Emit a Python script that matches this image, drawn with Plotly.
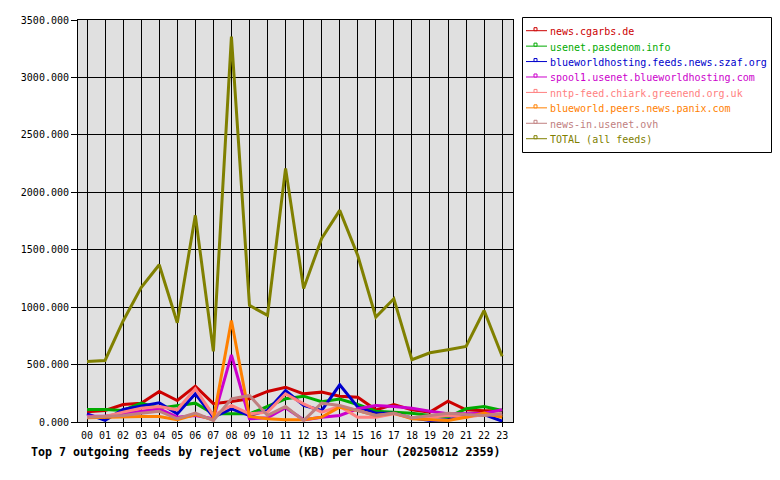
import plotly.graph_objects as go

hours = ["00", "01", "02", "03", "04", "05", "06", "07", "08", "09", "10", "11",
         "12", "13", "14", "15", "16", "17", "18", "19", "20", "21", "22", "23"]

feed_names = [
    "news.cgarbs.de",
    "usenet.pasdenom.info",
    "blueworldhosting.feeds.news.szaf.org",
    "spool1.usenet.blueworldhosting.com",
    "nntp-feed.chiark.greenend.org.uk",
    "blueworld.peers.news.panix.com",
    "news-in.usenet.ovh",
    "TOTAL (all feeds)",
]

cgarbs = [90, 100, 152, 164, 266, 187, 312, 160, 178, 202, 266, 303,
          245, 260, 225, 216, 106, 152, 106, 86, 181, 106, 98, 98]
pasdenom = [109, 109, 100, 165, 120, 145, 164, 72, 74, 71, 135, 202,
            225, 176, 199, 152, 94, 86, 77, 57, 42, 115, 135, 100]
szaf = [71, 15, 110, 140, 167, 71, 245, 42, 115, 57, 100, 274,
        144, 100, 324, 130, 77, 77, 36, 13, 19, 57, 65, 7]
spool1 = [51, 51, 71, 94, 115, 42, 57, 28, 585, 28, 37, 124,
          19, 42, 57, 115, 144, 135, 120, 94, 71, 71, 77, 106]
chiark = [42, 48, 86, 120, 135, 106, 289, 57, 144, 71, 86, 245,
          158, 86, 135, 42, 42, 71, 36, 42, 57, 42, 65, 57]
panix = [36, 42, 42, 48, 48, 19, 65, 19, 884, 48, 28, 19,
         19, 42, 129, 100, 57, 77, 28, 19, 13, 42, 77, 42]
ovh = [42, 48, 57, 77, 94, 28, 77, 13, 202, 231, 57, 135,
       13, 164, 144, 100, 57, 77, 36, 57, 77, 65, 57, 71]
total = [527, 536, 880, 1170, 1369, 864, 1799, 615, 3355, 1015, 928, 2208,
         1163, 1598, 1842, 1450, 913, 1073, 542, 603, 629, 658, 971, 573]

series = [cgarbs, pasdenom, szaf, spool1, chiark, panix, ovh, total]
colors = ["#cc0000", "#00aa00", "#0000cc", "#cc00cc", "#ff8080", "#ff8000", "#c08080", "#808000"]

xs = list(range(len(hours)))
mono = "DejaVu Sans Mono"

# plot area geometry in pixels (for the hand-drawn legend box)
PL, PR, PT, PB = 78, 513, 20, 422
W, H = PR - PL, PB - PT


def px(xp):
    return (xp - PL) / W


def py(yp):
    return (PB - yp) / H


fig = go.Figure()
for name, vals, col in zip(feed_names, series, colors):
    fig.add_trace(go.Scatter(x=xs, y=vals, mode="lines", name=name,
                             line=dict(color=col, width=3), showlegend=False,
                             hoverinfo="skip"))

shapes = [dict(type="rect", xref="paper", yref="paper",
               x0=px(522.5), x1=px(771.5), y0=py(152.5), y1=py(17.5),
               line=dict(color="black", width=1), fillcolor="white", layer="above")]
annotations = []
for i, (name, col) in enumerate(zip(feed_names, colors)):
    ly = 30.7 + 15.43 * i
    shapes.append(dict(type="line", xref="paper", yref="paper",
                       x0=px(526), x1=px(547), y0=py(ly), y1=py(ly),
                       line=dict(color=col, width=1), layer="above"))
    shapes.append(dict(type="rect", xref="paper", yref="paper",
                       x0=px(534), x1=px(537), y0=py(ly), y1=py(ly - 3),
                       line=dict(color=col, width=1), fillcolor="white", layer="above"))
    annotations.append(dict(text=name, xref="paper", yref="paper",
                            x=px(547.5), y=py(ly + 1), xanchor="left", yanchor="middle",
                            showarrow=False, font=dict(family=mono, size=10, color=col)))

annotations.append(dict(text="<b>Top 7 outgoing feeds by reject volume (KB) per hour (20250812 2359)</b>",
                        xref="paper", yref="paper", x=px(265.5), y=py(452),
                        xanchor="center", yanchor="middle", showarrow=False,
                        font=dict(family=mono, size=11.65, color="black")))

fig.update_layout(
    width=780, height=480,
    margin=dict(l=PL, r=780 - PR, t=PT, b=480 - PB),
    paper_bgcolor="white",
    plot_bgcolor="#e0e0e0",
    font=dict(family=mono, size=10, color="black"),
    showlegend=False,
    xaxis=dict(range=[-0.5, 23.6], tickmode="array", tickvals=xs, ticktext=hours,
               showgrid=True, gridcolor="black", gridwidth=1,
               showline=True, linecolor="black", linewidth=1, mirror=True,
               ticks="outside", ticklen=4, tickcolor="black", zeroline=False,
               tickfont=dict(family=mono, size=10)),
    yaxis=dict(range=[0, 3500], tickmode="array",
               tickvals=[0, 500, 1000, 1500, 2000, 2500, 3000, 3500],
               tickformat=".3f",
               showgrid=True, gridcolor="black", gridwidth=1,
               showline=True, linecolor="black", linewidth=1, mirror=True,
               ticks="outside", ticklen=6, tickcolor="black", zeroline=False,
               tickfont=dict(family=mono, size=10)),
    shapes=shapes,
    annotations=annotations,
)

fig.write_html("out.html")
